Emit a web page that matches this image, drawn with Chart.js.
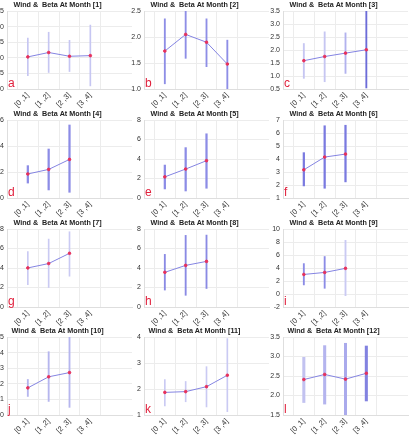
<!DOCTYPE html>
<html>
<head>
<meta charset="utf-8">
<script src="https://cdn.jsdelivr.net/npm/chart.js@4.4.0/dist/chart.umd.min.js"></script>
<style>
  body { margin: 0; background: #fff; width: 416px; height: 435px; overflow: hidden; position: relative; }
  canvas.panel { position: absolute; }
</style>
</head>
<body>
<script>
// Beta (mean and range) per wind bin, one row per month
const months = [1, 2, 3, 4, 5, 6, 7, 8, 9, 10, 11, 12];
const panelLetters = ['a', 'b', 'c', 'd', 'e', 'f', 'g', 'h', 'i', 'j', 'k', 'l'];
const binLabels = ['[0 ,1]', '[1 ,2]', '[2 ,3]', '[3 ,4]'];

const betaMean = [
    [2.03, 2.17, 2.05, 2.07],
    [1.73, 2.05, 1.90, 1.48],
    [1.59, 1.75, 1.88, 2.01],
    [1.85, 2.20, 2.97],
    [2.17, 2.97, 3.83],
    [3.17, 4.15, 4.38],
    [4.01, 4.46, 5.51],
    [3.56, 4.27, 4.68],
    [3.01, 3.32, 3.95],
    [1.74, 2.45, 2.72],
    [1.87, 1.90, 2.09, 2.53],
    [2.41, 2.54, 2.42, 2.57]
];
const betaLow = [
    [1.43, 1.53, 1.56, 1.10],
    [1.10, 1.59, 1.43, 1.00],
    [0.91, 0.78, 1.10, 0.54],
    [1.15, 0.62, 0.44],
    [0.93, 0.72, 1.00],
    [1.93, 1.75, 2.24],
    [2.28, 2.00, 3.16],
    [1.74, 1.20, 1.90],
    [1.40, 0.88, -0.26],
    [1.19, 0.87, 0.49],
    [1.35, 1.51, 1.31, 1.13],
    [1.82, 1.78, 1.50, 1.86]
];
const betaHigh = [
    [2.63, 2.82, 2.56, 3.05],
    [2.35, 2.50, 2.35, 1.94],
    [2.25, 2.70, 2.66, 3.50],
    [2.49, 3.77, 5.62],
    [3.38, 5.17, 6.59],
    [4.49, 6.56, 6.60],
    [5.68, 6.97, 7.72],
    [5.40, 7.35, 7.38],
    [4.68, 5.77, 8.26],
    [2.28, 4.06, 5.00],
    [2.36, 2.29, 2.86, 3.94],
    [2.98, 3.28, 3.34, 3.27]
];
const yMin  = [1, 1, 0.5, 0, 0, 1, 0, 0, -2, 0, 1, 1.5];
const yMax  = [3.5, 2.5, 3.5, 6, 8, 7, 8, 8, 10, 5, 4, 3.5];
const yStep = [0.5, 0.5, 0.5, 2, 2, 1, 2, 2, 2, 1, 1, 0.5];

// error bar look per panel
const barColors = [
    ['#c6c6f2', '#c6c6f2', '#c6c6f2', '#c6c6f2'],
    ['#8e8ee6', '#8e8ee6', '#8e8ee6', '#8e8ee6'],
    ['#c6c6f2', '#c6c6f2', '#b2b2ee', '#6c6cd8'],
    ['#8c8ce6', '#8c8ce6', '#8c8ce6'],
    ['#8c8ce6', '#8c8ce6', '#8c8ce6'],
    ['#7a7ae0', '#7a7ae0', '#7a7ae0'],
    ['#cacaf3', '#cacaf3', '#cacaf3'],
    ['#8a8ae4', '#8a8ae4', '#8a8ae4'],
    ['#8c8ce6', '#8c8ce6', '#cacaf3'],
    ['#b6b6ee', '#b6b6ee', '#b6b6ee'],
    ['#cacaf3', '#cacaf3', '#cacaf3', '#cacaf3'],
    ['#c2c2f0', '#b4b4ee', '#aaaaec', '#8282e0']
];
const barWidths = [1, 1.2, 1.2, 1.6, 1.6, 1.6, 1, 1.2, 1.2, 1.2, 1, 2.4];

// plot area boxes
const colLeft = [7, 144, 283];
const rowTop = [11, 120, 229, 337];
const plotW = 125, plotH = 78;
const yAxisW = 24, titleH = 11, xAxisH = 24, padRight = 24;

const font = '"Liberation Sans", Arial, sans-serif';

const letterPlugin = {
    id: 'panelLetter',
    afterDraw(chart, args, opts) {
        const ctx = chart.ctx;
        const area = chart.chartArea;
        ctx.save();
        ctx.font = '12px ' + font;
        ctx.fillStyle = '#e0203c';
        ctx.textBaseline = 'alphabetic';
        ctx.fillText(opts.text, area.left + 1, area.bottom - 2);
        ctx.restore();
    }
};

months.forEach(function(month, i) {
    const col = i % 3, row = Math.floor(i / 3);
    const canvas = document.createElement('canvas');
    canvas.className = 'panel';
    canvas.width = yAxisW + plotW + padRight;
    canvas.height = titleH + plotH + xAxisH;
    canvas.style.left = (colLeft[col] - yAxisW) + 'px';
    canvas.style.top = (rowTop[row] - titleH) + 'px';
    document.body.appendChild(canvas);

    const means = betaMean[i];
    new Chart(canvas.getContext('2d'), {
        type: 'bar',
        data: {
            datasets: [{
                type: 'line',
                data: means.map((m, j) => ({ x: j + 1, y: m })),
                borderColor: '#8484e2',
                borderWidth: 1,
                pointRadius: 1.3,
                pointBackgroundColor: '#e8305a',
                pointBorderColor: '#e8305a',
                order: 0
            }, {
                type: 'bar',
                data: means.map((m, j) => ({ x: j + 1, y: [betaLow[i][j], betaHigh[i][j]] })),
                backgroundColor: barColors[i],
                barThickness: barWidths[i],
                grouped: false,
                order: 1
            }]
        },
        options: {
            responsive: false,
            animation: false,
            layout: { padding: { left: 0, right: padRight, top: 0, bottom: 0 } },
            plugins: {
                legend: { display: false },
                tooltip: { enabled: false },
                title: {
                    display: true,
                    text: 'Wind &  Beta At Month [' + month + ']',
                    color: '#222',
                    font: { family: font, size: 7.2, weight: 'bold', lineHeight: 1.2 },
                    padding: { top: 1, bottom: 1.4 }
                },
                panelLetter: { text: panelLetters[i] }
            },
            scales: {
                x: {
                    type: 'linear',
                    min: 0,
                    max: 6,
                    offset: false,
                    afterBuildTicks: s => { s.ticks = [1, 2, 3, 4].map(v => ({ value: v })); },
                    afterFit: s => { s.height = xAxisH; },
                    ticks: {
                        callback: (v, idx) => binLabels[idx],
                        minRotation: 45,
                        maxRotation: 45,
                        padding: 2,
                        color: '#333',
                        font: { family: font, size: 7.5 }
                    },
                    grid: { color: '#ececec', drawTicks: false },
                    border: { color: '#dedede' }
                },
                y: {
                    min: yMin[i],
                    max: yMax[i],
                    afterFit: s => { s.width = yAxisW; },
                    ticks: {
                        stepSize: yStep[i],
                        padding: 3,
                        color: '#333',
                        font: { family: font, size: 7 }
                    },
                    grid: { color: '#ececec', drawTicks: false },
                    border: { color: '#dedede' }
                }
            }
        },
        plugins: [letterPlugin]
    });
});
</script>
</body>
</html>
